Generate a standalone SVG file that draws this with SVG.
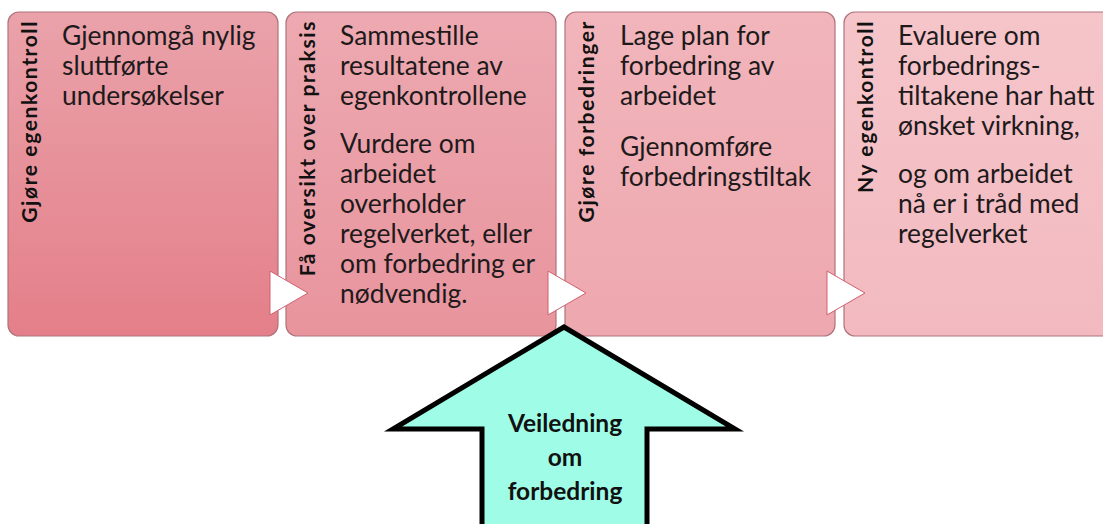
<svg xmlns="http://www.w3.org/2000/svg" width="1103" height="524" viewBox="0 0 1103 524">
  <style>
    .box { stroke: #b0737b; stroke-width: 1.2; }
    .body { font-family: "Lato", "Carlito", "Liberation Sans", sans-serif; font-size: 26.4px; fill: #1e1a1b; }
    .label { font-family: "Lato", "Carlito", "Liberation Sans", sans-serif; font-size: 21px; font-weight: bold; fill: #111; text-anchor: end; letter-spacing: 1.6px; }
    .tri { fill: #ffffff; stroke: #d0606e; stroke-width: 1; stroke-linejoin: miter; }
    .guide { fill: #9ffde7; stroke: #000; stroke-width: 5; stroke-linejoin: miter; }
    .gtext { font-family: "Lato", "Carlito", "Liberation Sans", sans-serif; font-size: 24.5px; font-weight: bold; fill: #111; text-anchor: middle; }
  </style>
  <defs>
    <linearGradient id="g1" x1="0" y1="0" x2="0" y2="1">
      <stop offset="0" stop-color="#eaa2aa"/>
      <stop offset="1" stop-color="#e47f89"/>
    </linearGradient>
    <linearGradient id="g2" x1="0" y1="0" x2="0" y2="1">
      <stop offset="0" stop-color="#eda9b1"/>
      <stop offset="1" stop-color="#e8949d"/>
    </linearGradient>
    <linearGradient id="g3" x1="0" y1="0" x2="0" y2="1">
      <stop offset="0" stop-color="#f1b5bb"/>
      <stop offset="1" stop-color="#eea8af"/>
    </linearGradient>
    <linearGradient id="g4" x1="0" y1="0" x2="0" y2="1">
      <stop offset="0" stop-color="#f5c5ca"/>
      <stop offset="1" stop-color="#f2bac0"/>
    </linearGradient>
  </defs>
  <rect width="1103" height="524" fill="#ffffff"/>

  <g id="step1">
    <rect class="box" x="8" y="12" width="270" height="324" rx="11" fill="url(#g1)"/>
    <text class="label" transform="translate(37,20) rotate(-90)">Gjøre egenkontroll</text>
    <text class="body"><tspan x="62" y="45">Gjennomgå nylig</tspan><tspan x="62" y="75">sluttførte</tspan><tspan x="62" y="105">undersøkelser</tspan></text>
  </g>

  <g id="step2">
    <rect class="box" x="286" y="12" width="270" height="324" rx="11" fill="url(#g2)"/>
    <text class="label" transform="translate(315,20) rotate(-90)">Få oversikt over praksis</text>
    <text class="body"><tspan x="340" y="45">Sammestille</tspan><tspan x="340" y="75">resultatene av</tspan><tspan x="340" y="105">egenkontrollene</tspan><tspan x="340" y="153">Vurdere om</tspan><tspan x="340" y="183">arbeidet</tspan><tspan x="340" y="213">overholder</tspan><tspan x="340" y="243">regelverket, eller</tspan><tspan x="340" y="273">om forbedring er</tspan><tspan x="340" y="303">nødvendig.</tspan></text>
  </g>

  <g id="step3">
    <rect class="box" x="565" y="12" width="270" height="324" rx="11" fill="url(#g3)"/>
    <text class="label" transform="translate(594,20) rotate(-90)">Gjøre forbedringer</text>
    <text class="body"><tspan x="620" y="45">Lage plan for</tspan><tspan x="620" y="75">forbedring av</tspan><tspan x="620" y="105">arbeidet</tspan><tspan x="620" y="156">Gjennomføre</tspan><tspan x="620" y="186">forbedringstiltak</tspan></text>
  </g>

  <g id="step4">
    <rect class="box" x="844" y="12" width="280" height="324" rx="11" fill="url(#g4)"/>
    <text class="label" transform="translate(873,20) rotate(-90)">Ny egenkontroll</text>
    <text class="body"><tspan x="898" y="45">Evaluere om</tspan><tspan x="898" y="75">forbedrings-</tspan><tspan x="898" y="105">tiltakene har hatt</tspan><tspan x="898" y="135">ønsket virkning,</tspan><tspan x="898" y="183">og om arbeidet</tspan><tspan x="898" y="213">nå er i tråd med</tspan><tspan x="898" y="243">regelverket</tspan></text>
  </g>

  <g id="connectors">
    <polygon class="tri" points="270,271 308,293 270,315"/>
    <polygon class="tri" points="548,271 586,293 548,315"/>
    <polygon class="tri" points="827,271 865,293 827,315"/>
  </g>

  <g id="guidance">
    <polygon class="guide" points="564,327 735,429 647,429 647,530 482,530 482,429 393,429"/>
    <text class="gtext"><tspan x="565" y="432">Veiledning</tspan><tspan x="565" y="466">om</tspan><tspan x="565" y="500">forbedring</tspan></text>
  </g>
</svg>
